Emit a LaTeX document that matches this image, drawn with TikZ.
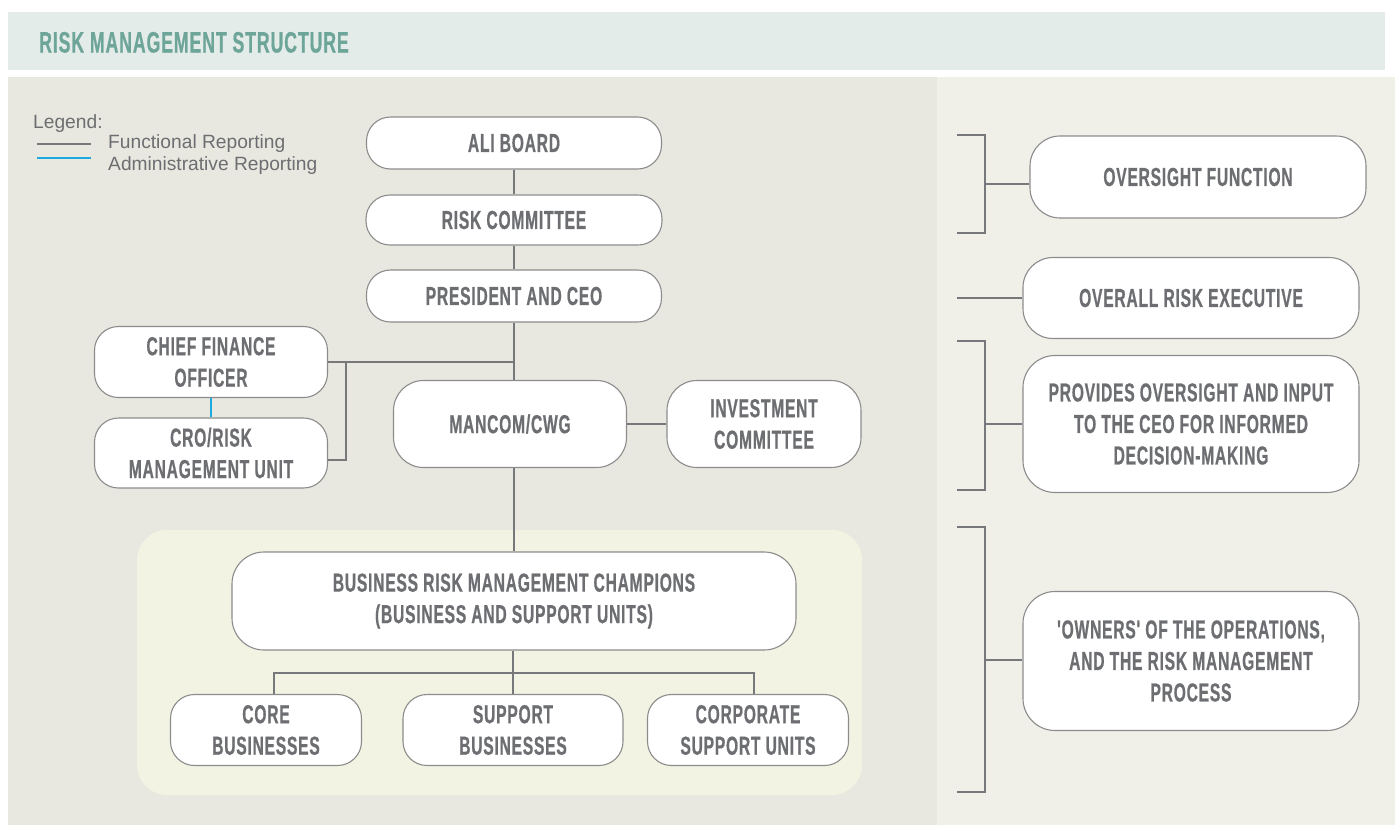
\documentclass[tikz,border=0pt]{standalone}
\usepackage{fontspec}
\setmainfont{Liberation Sans}
\newfontfamily\bebas[FakeStretch=0.6,FakeBold=0.6,LetterSpace=3]{Liberation Sans}
\usetikzlibrary{positioning}

\definecolor{titleband}{HTML}{E3ECE8}
\definecolor{titleteal}{HTML}{6EA599}
\definecolor{leftpanel}{HTML}{E8E8E0}
\definecolor{rightpanel}{HTML}{F0F0E9}
\definecolor{champpanel}{HTML}{F3F3E3}
\definecolor{boxtext}{HTML}{6D6E71}
\definecolor{boxedge}{HTML}{8C8C8C}
\definecolor{funcgray}{HTML}{77787B}
\definecolor{adminblue}{HTML}{1CA9E1}

\tikzset{
	orgbox/.style={shape=rectangle, rounded corners=24pt, fill=white, draw=boxedge, line width=1.1pt,
		align=center, text=boxtext, font=\bebas\bfseries\fontsize{26}{31.5}\selectfont, inner sep=0pt},
	funcline/.style={draw=funcgray, line width=1.4pt},
	adminline/.style={draw=adminblue, line width=1.4pt},
	legendtext/.style={anchor=base west, text=boxtext, font=\fontsize{19.2}{21}\selectfont, inner sep=0pt}
}

\begin{document}
\begin{tikzpicture}[x=1pt, y=-1pt]
	\useasboundingbox (0,0) rectangle (1395,825);
	% Panels:
	\fill[titleband] (8,12) rectangle (1385,70);
	\fill[leftpanel] (8,77) rectangle (937,825);
	\fill[rightpanel] (937,77) rectangle (1395,825);
	\fill[champpanel, rounded corners=30pt] (137,530) rectangle (862,795);
	\node[anchor=base west, inner sep=0pt, text=titleteal, font=\bebas\bfseries\fontsize{29.5}{31}\selectfont] (title) at (39,52.5) {RISK MANAGEMENT STRUCTURE};
	% Legend:
	\node[legendtext] (legend) at (33,128) {Legend:};
	\node[legendtext] (funclabel) at (108,148.5) {Functional Reporting};
	\node[legendtext] (adminlabel) at (108,170.5) {Administrative Reporting};
	\coordinate (funcA) at (37,144);
	\coordinate (funcB) at (91,144);
	\coordinate (adminA) at (37,158);
	\coordinate (adminB) at (91,158);
	\draw[funcline, line width=2.6pt] (funcA) -- (funcB);
	\draw[adminline, line width=2.6pt] (adminA) -- (adminB);
	% Left chart:
	\node[orgbox, minimum width=295pt, minimum height=52pt] (board) at (514,143) {ALI BOARD};
	\node[orgbox, minimum width=296pt, minimum height=50pt] (riskcom) at (514,220) {RISK COMMITTEE};
	\node[orgbox, minimum width=295pt, minimum height=52pt] (ceo) at (514,296) {PRESIDENT AND CEO};
	\node[orgbox, minimum width=233pt, minimum height=71pt] (cfo) at (211,362) {CHIEF FINANCE\\OFFICER};
	\node[orgbox, minimum width=233pt, minimum height=70pt] (cro) at (211,453) {CRO/RISK\\MANAGEMENT UNIT};
	\node[orgbox, minimum width=233pt, minimum height=87pt, rounded corners=30pt] (mancom) at (510,424) {MANCOM/CWG};
	\node[orgbox, minimum width=194pt, minimum height=87pt, rounded corners=30pt] (invest) at (764,424) {INVESTMENT\\COMMITTEE};
	\node[orgbox, minimum width=564pt, minimum height=98pt, rounded corners=32pt] (brm) at (514,601) {BUSINESS RISK MANAGEMENT CHAMPIONS\\(BUSINESS AND SUPPORT UNITS)};
	\node[orgbox, minimum width=191pt, minimum height=71pt] (core) at (266,730) {CORE\\BUSINESSES};
	\node[orgbox, minimum width=220pt, minimum height=71pt] (support) at (513,730) {SUPPORT\\BUSINESSES};
	\node[orgbox, minimum width=201pt, minimum height=71pt] (corp) at (748,730) {CORPORATE\\SUPPORT UNITS};
	\draw[funcline] (board) -- (riskcom);
	\draw[funcline] (riskcom) -- (ceo);
	\draw[funcline] (ceo.south) -- (ceo.south |- mancom.north);
	\coordinate (cfojoin) at (346,362);
	\draw[funcline] (cfo.east) -- (cfo.east -| ceo.south);
	\draw[funcline] (cfojoin) |- ([yshift=-7pt]cro.east);
	\draw[adminline] (cfo) -- (cro);
	\draw[funcline] (mancom) -- (invest);
	\draw[funcline] (mancom.south -| brm.north) -- (brm.north);
	\coordinate (bus) at (513,673);
	\draw[funcline] (brm.south -| support.north) -- (support.north);
	\draw[funcline] ([xshift=8pt]core.north) |- (bus) -| ([xshift=6pt]corp.north);
	% Right column:
	\node[orgbox, minimum width=336pt, minimum height=82pt, rounded corners=30pt] (oversight) at (1198,177) {OVERSIGHT FUNCTION};
	\node[orgbox, minimum width=336pt, minimum height=81pt, rounded corners=30pt] (overall) at (1191,298) {OVERALL RISK EXECUTIVE};
	\node[orgbox, minimum width=336pt, minimum height=137pt, rounded corners=32pt] (provides) at (1191,424) {PROVIDES OVERSIGHT AND INPUT\\TO THE CEO FOR INFORMED\\DECISION-MAKING};
	\node[orgbox, minimum width=336pt, minimum height=139pt, rounded corners=32pt] (owners) at (1191,661) {'OWNERS' OF THE OPERATIONS,\\AND THE RISK MANAGEMENT\\PROCESS};
	\draw[funcline, line width=1.1pt] (957,135) -- (985,135) -- (985,233) -- (957,233);
	\draw[funcline, line width=1.1pt] (985,184) -- (985,184 -| oversight.west);
	\draw[funcline, line width=1.1pt] (957,298) -- (overall.west);
	\draw[funcline, line width=1.1pt] (957,341) -- (985,341) -- (985,490) -- (957,490);
	\draw[funcline, line width=1.1pt] (985,424) -- (provides.west);
	\draw[funcline, line width=1.1pt] (957,527) -- (985,527) -- (985,792) -- (957,792);
	\draw[funcline, line width=1.1pt] (985,660) -- (985,660 -| owners.west);
\end{tikzpicture}
\end{document}
